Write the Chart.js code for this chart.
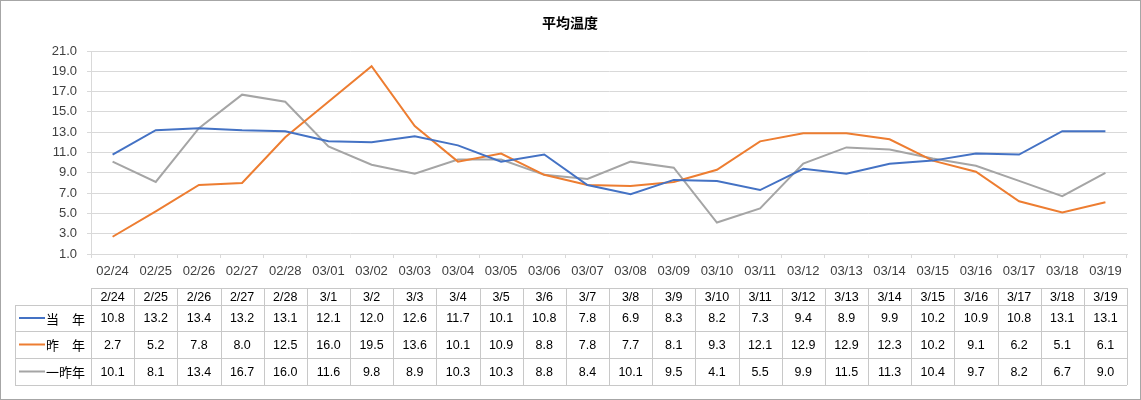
<!DOCTYPE html>
<html>
<head>
<meta charset="utf-8">
<script src="https://cdn.jsdelivr.net/npm/chart.js@4"></script>
<style>
    body { margin: 0; background: #fff; }
    canvas { display: block; }
</style>
</head>
<body>
<canvas id="chart" width="1141" height="400"></canvas>
<script>
var categories = ["02/24", "02/25", "02/26", "02/27", "02/28", "03/01", "03/02", "03/03", "03/04", "03/05", "03/06", "03/07",
    "03/08", "03/09", "03/10", "03/11", "03/12", "03/13", "03/14", "03/15", "03/16", "03/17", "03/18", "03/19"];
var tableLabels = ["2/24", "2/25", "2/26", "2/27", "2/28", "3/1", "3/2", "3/3", "3/4", "3/5", "3/6", "3/7",
    "3/8", "3/9", "3/10", "3/11", "3/12", "3/13", "3/14", "3/15", "3/16", "3/17", "3/18", "3/19"];
var thisYear = [10.8, 13.2, 13.4, 13.2, 13.1, 12.1, 12.0, 12.6, 11.7, 10.1, 10.8, 7.8,
    6.9, 8.3, 8.2, 7.3, 9.4, 8.9, 9.9, 10.2, 10.9, 10.8, 13.1, 13.1];
var lastYear = [2.7, 5.2, 7.8, 8.0, 12.5, 16.0, 19.5, 13.6, 10.1, 10.9, 8.8, 7.8,
    7.7, 8.1, 9.3, 12.1, 12.9, 12.9, 12.3, 10.2, 9.1, 6.2, 5.1, 6.1];
var twoYearsAgo = [10.1, 8.1, 13.4, 16.7, 16.0, 11.6, 9.8, 8.9, 10.3, 10.3, 8.8, 8.4,
    10.1, 9.5, 4.1, 5.5, 9.9, 11.5, 11.3, 10.4, 9.7, 8.2, 6.7, 9.0];
var seriesNames = ["当　年", "昨　年", "一昨年"];
var seriesColors = ["#4472C4", "#ED7D31", "#A5A5A5"];

var gridColor = "#d9d9d9";
var tickFont = "'Liberation Sans', Arial, sans-serif";

// title, data table and outer frame
var tablePlugin = {
    id: "dataTable",
    afterDraw: function (chart) {
        var ctx = chart.ctx;
        var area = chart.chartArea;
        var n = categories.length;
        var w = (area.right - area.left) / n;
        var rows = [288, 305, 331, 358, 385];
        var legendLeft = 15;
        var values = [thisYear, lastYear, twoYearsAgo];

        ctx.save();
        // title
        ctx.fillStyle = "#000";
        ctx.font = "bold 14px 'Noto Sans CJK JP', sans-serif";
        ctx.textAlign = "center";
        ctx.textBaseline = "middle";
        ctx.fillText("平均温度", 570, 23);

        // grid of table
        ctx.strokeStyle = "#c8c8c8";
        ctx.lineWidth = 1;
        ctx.beginPath();
        for (var r = 0; r < rows.length; r++) {
            var y = rows[r] + 0.5;
            ctx.moveTo(r === 0 ? Math.round(area.left) : legendLeft, y);
            ctx.lineTo(Math.round(area.right), y);
        }
        for (var i = 0; i <= n; i++) {
            var x = Math.round(area.left + i * w) + 0.5;
            ctx.moveTo(x, rows[0]);
            ctx.lineTo(x, rows[4]);
        }
        ctx.moveTo(legendLeft + 0.5, rows[1]);
        ctx.lineTo(legendLeft + 0.5, rows[4]);
        ctx.stroke();

        // header and values
        ctx.fillStyle = "#000";
        ctx.font = "12.5px " + tickFont;
        for (var i = 0; i < n; i++) {
            var cx = area.left + (i + 0.5) * w;
            ctx.fillText(tableLabels[i], cx, (rows[0] + rows[1]) / 2 + 1);
            for (var s = 0; s < 3; s++) {
                ctx.fillText(values[s][i].toFixed(1), cx, (rows[s + 1] + rows[s + 2]) / 2 + 1);
            }
        }

        // legend keys
        for (var s = 0; s < 3; s++) {
            var cy = (rows[s + 1] + rows[s + 2]) / 2;
            ctx.strokeStyle = seriesColors[s];
            ctx.lineWidth = 2;
            ctx.beginPath();
            ctx.moveTo(19, cy);
            ctx.lineTo(45, cy);
            ctx.stroke();
            ctx.fillStyle = "#000";
            ctx.font = "13px 'Noto Sans CJK JP', sans-serif";
            ctx.textAlign = "left";
            ctx.fillText(seriesNames[s], 46, cy + 1);
        }

        // outer frame
        ctx.strokeStyle = "#a6a6a6";
        ctx.lineWidth = 1;
        ctx.strokeRect(0.5, 0.5, chart.width - 1, chart.height - 1);
        ctx.restore();
    }
};

var ctx = document.getElementById("chart").getContext("2d");
var lineChart = new Chart(ctx, {
    type: "line",
    data: {
        labels: categories,
        datasets: [
            { label: seriesNames[0], data: thisYear, borderColor: seriesColors[0] },
            { label: seriesNames[1], data: lastYear, borderColor: seriesColors[1] },
            { label: seriesNames[2], data: twoYearsAgo, borderColor: seriesColors[2] }
        ]
    },
    options: {
        responsive: false,
        animation: false,
        layout: { padding: { top: 51, right: 14, left: 0, bottom: 0 } },
        elements: {
            line: { borderWidth: 2, tension: 0, fill: false },
            point: { radius: 0 }
        },
        plugins: {
            legend: { display: false },
            tooltip: { enabled: false }
        },
        scales: {
            x: {
                offset: true,
                afterFit: function (scale) { scale.height = 146; },
                grid: {
                    offset: true,
                    drawOnChartArea: false,
                    drawTicks: true,
                    tickLength: 4,
                    color: gridColor
                },
                border: { display: true, color: gridColor },
                ticks: {
                    padding: 6,
                    maxRotation: 0,
                    autoSkip: false,
                    color: "#404040",
                    font: { size: 13, family: tickFont }
                }
            },
            y: {
                min: 1,
                max: 21,
                afterFit: function (scale) { scale.width = 91; },
                grid: {
                    color: gridColor,
                    tickLength: 4
                },
                border: { display: true, color: gridColor },
                ticks: {
                    stepSize: 2,
                    padding: 10,
                    color: "#404040",
                    font: { size: 13, family: tickFont },
                    callback: function (v) { return Number(v).toFixed(1); }
                }
            }
        }
    },
    plugins: [tablePlugin]
});
</script>
</body>
</html>
